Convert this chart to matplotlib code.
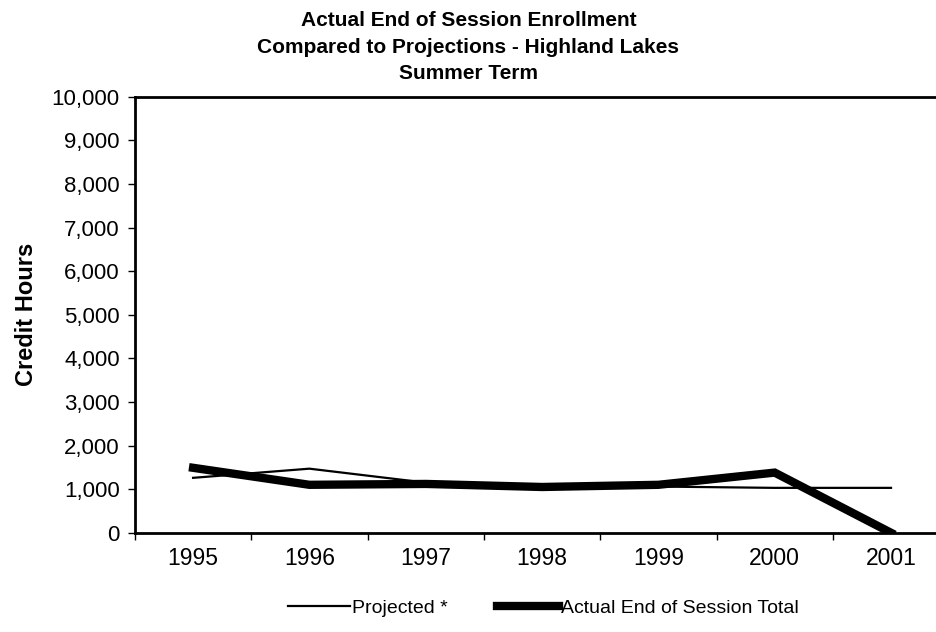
import numpy as np
import matplotlib.pyplot as plt
import matplotlib.ticker as mtick

plt.rcParams['font.family'] = ['Liberation Sans', 'DejaVu Sans']

years = ['1995', '1996', '1997', '1998', '1999', '2000', '2001']
projected = [1260, 1470, 1150, 1050, 1060, 1030, 1030]
actual = [1490, 1100, 1120, 1050, 1100, 1380, 0]

fig = plt.figure(figsize=(9.37, 6.32), dpi=100)
ax = fig.add_axes([0.144, 0.157, 0.869, 0.69])

x = np.arange(len(years))
ax.plot(x, projected, color='black', linewidth=1.6, label='Projected *')
ax.plot(x, actual, color='black', linewidth=6, label='Actual End of Session Total',
        solid_joinstyle='miter')

ax.set_xlim(-0.5, len(years) - 0.5)
ax.set_ylim(0, 10000)
ax.set_yticks(np.arange(0, 10001, 1000))
ax.yaxis.set_major_formatter(mtick.StrMethodFormatter('{x:,.0f}'))
ax.set_xticks(x)
ax.set_xticklabels(years)
ax.set_xticks(np.arange(-0.5, len(years), 1), minor=True)
ax.tick_params(axis='x', which='major', length=0, pad=10, labelsize=16.5)
ax.tick_params(axis='x', which='minor', length=5, width=1)
ax.tick_params(axis='y', length=5, width=1, labelsize=16, pad=6)

for s in ax.spines.values():
    s.set_linewidth(2)

ax.set_ylabel('Credit Hours', fontsize=17, fontweight='bold', labelpad=10)
fig.text(0.5, 0.982, 'Actual End of Session Enrollment\nCompared to Projections - Highland Lakes\nSummer Term',
         ha='center', va='top', fontsize=15, fontweight='bold', linespacing=1.5)

fig.legend(loc='center', bbox_to_anchor=(0.58, 0.038), ncol=2, frameon=False,
           fontsize=14, handlelength=3.2, handletextpad=0.1, columnspacing=2.5)

plt.savefig('out.png', dpi=100)
